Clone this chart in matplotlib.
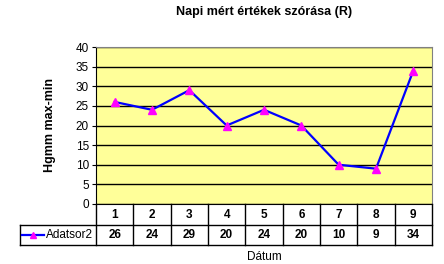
import matplotlib.pyplot as plt
from matplotlib.lines import Line2D
from matplotlib.transforms import blended_transform_factory

plt.rcParams["font.family"] = ["Liberation Sans", "DejaVu Sans"]

categories = ["1", "2", "3", "4", "5", "6", "7", "8", "9"]
values = [26, 24, 29, 20, 24, 20, 10, 9, 34]
series_name = "Adatsor2"

W, H = 444, 264
fig = plt.figure(figsize=(W / 100, H / 100), dpi=100)
ax = fig.add_axes([96 / W, 1 - 204 / H, (432 - 96) / W, (204 - 47) / H])
ax.set_facecolor("#FFFF99")

x = list(range(len(categories)))
ax.plot(x, values, color="#0000FF", lw=1.6, marker="^", ms=5.5,
        mfc="#FF00FF", mec="#FF00FF", zorder=3)

ax.set_xlim(-0.5, len(categories) - 0.5)
ax.set_ylim(0, 40)
ax.set_yticks(range(0, 41, 5))
ax.yaxis.grid(True, color="black", lw=1)
ax.set_axisbelow(True)
ax.set_xticks([])
ax.tick_params(axis="y", labelsize=8.5, length=3, direction="out", pad=2)
for s in ["top", "right"]:
    ax.spines[s].set_color("#808080")
for s in ["left", "bottom"]:
    ax.spines[s].set_color("black")

ax.set_ylabel("Hgmm max-min", fontsize=9, fontweight="bold", labelpad=14)
fig.text(264 / W, 1 - 12 / H, "Napi mért értékek szórása (R)",
         ha="center", va="center", fontsize=9, fontweight="bold")
fig.text(264 / W, 1 - 257 / H, "Dátum", ha="center", va="center", fontsize=8.5)

# data table below the axes
def fy(py):
    return 1 - py / H

def fx(px):
    return px / W

r0, r1, r2 = 204, 225, 245
left_px, x0_px, x1_px = 20, 96, 432
step = (x1_px - x0_px) / len(categories)
lines = []
lines.append(([fx(left_px), fx(x1_px)], [fy(r1), fy(r1)]))
lines.append(([fx(left_px), fx(x1_px)], [fy(r2), fy(r2)]))
lines.append(([fx(left_px), fx(left_px)], [fy(r1), fy(r2)]))
for i in range(len(categories) + 1):
    px = x0_px + i * step
    lines.append(([fx(px), fx(px)], [fy(r0), fy(r2)]))
for xs, ys in lines:
    fig.add_artist(Line2D(xs, ys, color="black", lw=1))

tr = blended_transform_factory(ax.transData, fig.transFigure)
for xi, cat, val in zip(x, categories, values):
    ax.text(xi, fy((r0 + r1) / 2), cat, transform=tr, ha="center", va="center",
            fontsize=8.5, fontweight="bold", clip_on=False)
    ax.text(xi, fy((r1 + r2) / 2), str(val), transform=tr, ha="center", va="center",
            fontsize=8.5, fontweight="bold", clip_on=False)

# legend key in the table
ym = fy((r1 + r2) / 2)
fig.add_artist(Line2D([fx(22), fx(44)], [ym, ym], color="#0000FF", lw=1.6))
fig.add_artist(Line2D([fx(33)], [ym], marker="^", ms=5, color="#FF00FF", lw=0))
fig.text(fx(46), ym, series_name, ha="left", va="center", fontsize=8.5)

fig.savefig("out.png", dpi=100)
